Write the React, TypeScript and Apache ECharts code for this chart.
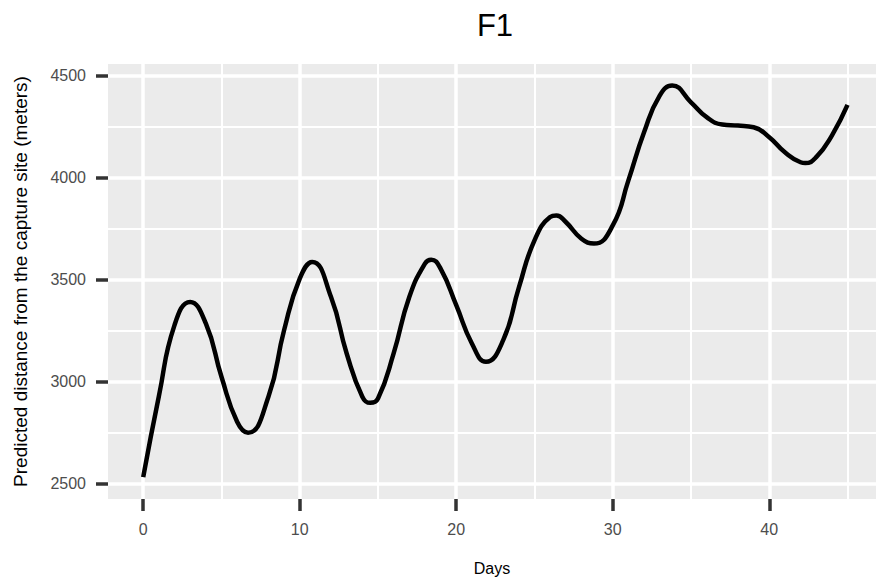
import React, { useEffect, useRef } from "react";
import * as echarts from "echarts";

// Smoothed prediction for F1: days since capture vs. distance (m)
const days = [
  0, 1, 2, 3, 4, 5, 6, 6.7, 8, 9, 10, 10.8, 12, 13, 14, 14.5, 15, 16, 17, 18,
  18.4, 19, 20, 21, 21.9, 23, 24, 25, 26, 26.4, 27, 28, 28.8, 30, 31, 32, 33,
  33.8, 35, 36, 37, 38, 39, 40, 41, 42, 42.3, 43, 44, 45,
];
const distance = [
  2530, 2927, 3276, 3390, 3284, 3023, 2802, 2748, 2925, 3251, 3504, 3586, 3414,
  3137, 2925, 2895, 2916, 3137, 3414, 3578, 3597, 3553, 3374, 3186, 3096, 3202,
  3460, 3692, 3806, 3814, 3782, 3700, 3676, 3765, 3986, 4222, 4402, 4451, 4369,
  4296, 4260, 4255, 4247, 4198, 4124, 4075, 4071, 4100, 4206, 4356,
];

const xMajor = [0, 10, 20, 30, 40];
const xMinor = [5, 15, 25, 35, 45];
const yMajor = [2500, 3000, 3500, 4000, 4500];
const yMinor = [2750, 3250, 3750, 4250];

const FONT = "'Liberation Sans', Arial, sans-serif";

export default function App() {
  const ref = useRef<HTMLDivElement>(null);

  useEffect(() => {
    if (!ref.current) return;
    const chart = echarts.init(ref.current, undefined, { renderer: "svg" });

    const major = { color: "#FFFFFF", width: 3.5, type: "solid" as const };
    const minor = { color: "#FFFFFF", width: 2, type: "solid" as const };

    const gridLines = [
      ...xMinor.map((v) => ({ xAxis: v, lineStyle: minor })),
      ...yMinor.map((v) => ({ yAxis: v, lineStyle: minor })),
      ...xMajor.map((v) => ({ xAxis: v, lineStyle: major })),
      ...yMajor.map((v) => ({ yAxis: v, lineStyle: major })),
    ];

    chart.setOption({
      animation: false,
      backgroundColor: "#FFFFFF",
      textStyle: { fontFamily: FONT },
      graphic: [
        {
          type: "text",
          x: 495,
          y: 25,
          style: {
            text: "F1",
            fontSize: 31,
            fontFamily: FONT,
            fill: "#000000",
            textAlign: "center",
            textVerticalAlign: "middle",
          },
        },
      ],
      grid: {
        left: 108,
        right: 0,
        top: 64,
        bottom: 84,
        show: true,
        backgroundColor: "#EBEBEB",
        borderWidth: 0,
      },
      xAxis: {
        type: "value",
        min: -2.25,
        max: 46.82,
        name: "Days",
        nameLocation: "middle",
        nameGap: 61,
        nameTextStyle: { fontSize: 16, color: "#000000", fontFamily: FONT },
        axisLine: { show: false, onZero: false },
        splitLine: { show: false },
        axisTick: {
          show: true,
          customValues: xMajor,
          length: 12,
          lineStyle: { color: "#333333", width: 3.5 },
        },
        axisLabel: {
          customValues: xMajor,
          margin: 22,
          fontSize: 16,
          color: "#4D4D4D",
          fontFamily: FONT,
          formatter: (v: number) => String(v),
        },
      },
      yAxis: {
        type: "value",
        min: 2423,
        max: 4557,
        name: "Predicted distance from the capture site (meters)",
        nameLocation: "middle",
        nameRotate: 90,
        nameGap: 78,
        nameTextStyle: { fontSize: 19, color: "#000000", fontFamily: FONT },
        axisLine: { show: false, onZero: false },
        splitLine: { show: false },
        axisTick: {
          show: true,
          customValues: yMajor,
          length: 12,
          lineStyle: { color: "#333333", width: 3.5 },
        },
        axisLabel: {
          customValues: yMajor,
          margin: 22,
          fontSize: 16,
          color: "#4D4D4D",
          fontFamily: FONT,
          formatter: (v: number) => String(v),
        },
      },
      series: [
        {
          type: "line",
          z: 1,
          data: [],
          silent: true,
          markLine: {
            silent: true,
            symbol: "none",
            label: { show: false },
            data: gridLines,
          },
        },
        {
          type: "line",
          z: 5,
          data: days.map((d, i) => [d, distance[i]]),
          smooth: 0.5,
          showSymbol: false,
          lineStyle: { color: "#000000", width: 4.5 },
        },
      ],
    });

    return () => chart.dispose();
  }, []);

  return (
    <div
      ref={ref}
      style={{ position: "fixed", left: 0, top: 0, width: 876, height: 583 }}
    />
  );
}
